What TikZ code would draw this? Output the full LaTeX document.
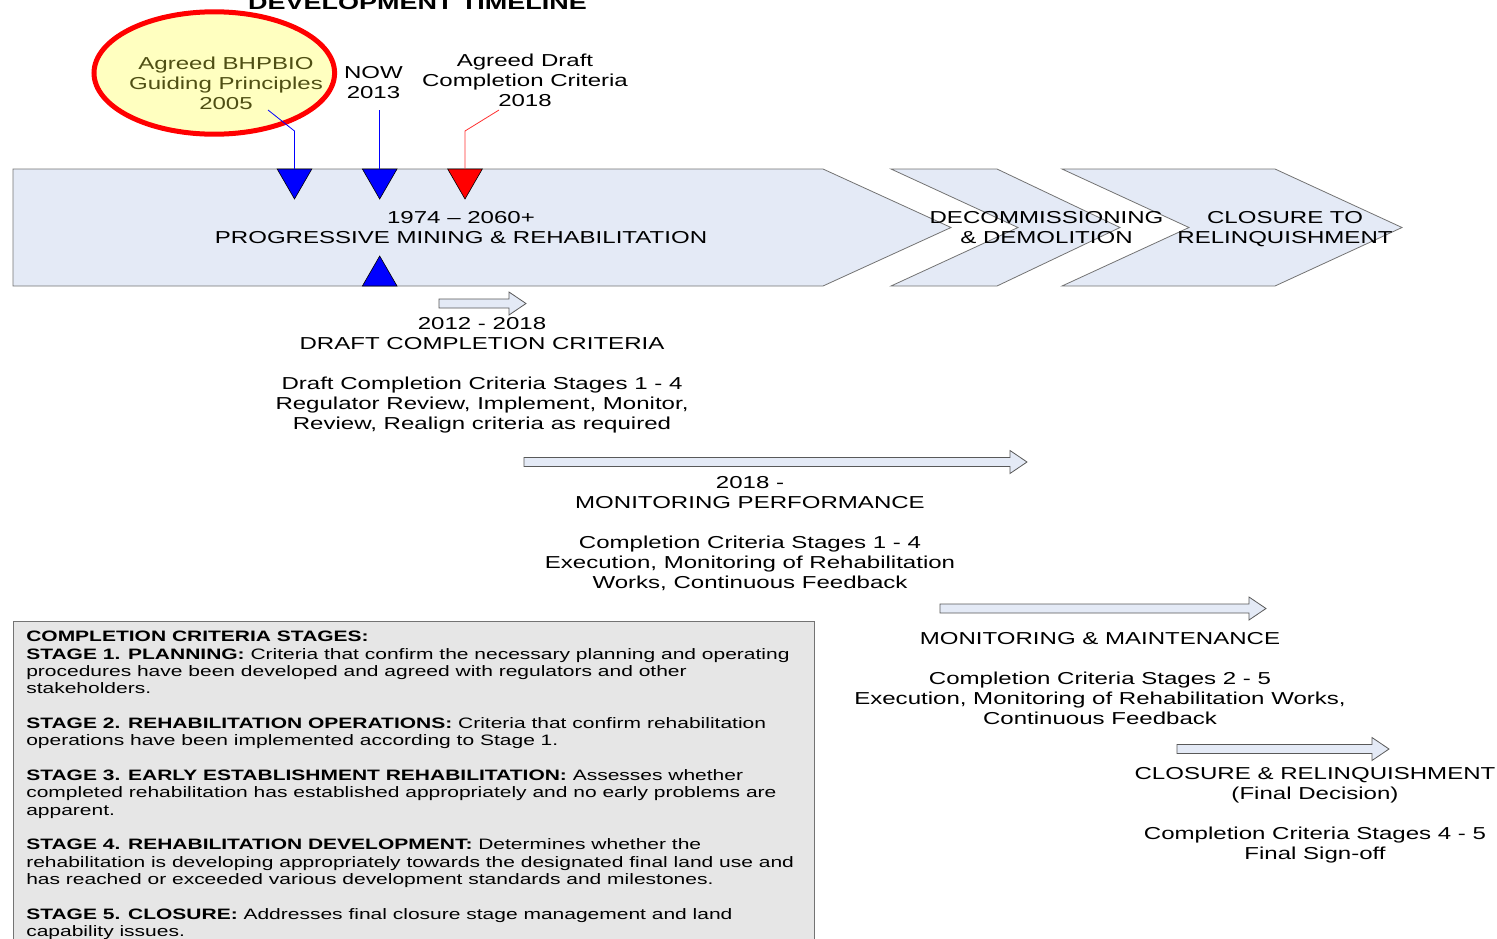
\documentclass[tikz,border=0pt]{standalone}
\usepackage{fontspec}
\setmainfont{Liberation Sans}
\usetikzlibrary{positioning,shapes.geometric}
\definecolor{barfill}{HTML}{E4EAF6}
\definecolor{boxfill}{HTML}{E6E6E6}
\definecolor{notefill}{HTML}{FFFFC0}
\definecolor{notetext}{HTML}{4F4F14}
\definecolor{callred}{HTML}{FF3030}
\tikzset{
txt/.style={font=\fontsize{17.3}{20}\selectfont, align=center, inner sep=0pt, anchor=north, transform shape, xscale=1.39},
stagetxt/.style={font=\fontsize{15.1}{17.35}\selectfont, align=left, inner sep=0pt, anchor=north west, transform shape, xscale=1.39},
phase/.style={fill=barfill, draw=black!55, line width=0.8pt},
flow/.style={fill=barfill, draw=black!65, line width=0.8pt},
markdown/.style={regular polygon, regular polygon sides=3, shape border rotate=180, minimum size=40pt, inner sep=0pt, outer sep=0pt, draw=black, line width=0.6pt, anchor=north},
markup/.style={regular polygon, regular polygon sides=3, minimum size=40pt, inner sep=0pt, outer sep=0pt, draw=black, line width=0.6pt, anchor=south},
note/.style={ellipse, draw=red, line width=5pt, fill=notefill, minimum width=240.6pt, minimum height=122.4pt, inner sep=0pt},
connect/.style={line width=0.8pt}
}
\newcommand{\timearrow}[3]{%
  \draw[flow] (#1,{-(#3)+4.5}) -- ({#2-17},{-(#3)+4.5}) -- ({#2-17},{-(#3)+11.5}) -- (#2,-#3)
    -- ({#2-17},{-(#3)-11.5}) -- ({#2-17},{-(#3)-4.5}) -- (#1,{-(#3)-4.5}) -- cycle;}

\begin{document}
\begin{tikzpicture}[x=1pt, y=1pt]
        \useasboundingbox (0,0) rectangle (1497,-938);
        \node[font=\bfseries\fontsize{19.4}{22}\selectfont, inner sep=0pt, anchor=base, transform shape, xscale=1.39] (title) at (417.5,-9.5) {DEVELOPMENT TIMELINE};

        \draw[phase] (13,-169) -- (823,-169) -- (951,-227.5) -- (823,-286) -- (13,-286) -- cycle;
        \draw[phase] (891,-169) -- (997,-169) -- (1120,-227.5) -- (997,-286) -- (891,-286) -- (1018,-227.5) -- cycle;
        \draw[phase] (1062,-169) -- (1275,-169) -- (1402,-227.5) -- (1275,-286) -- (1062,-286) -- (1189,-227.5) -- cycle;
        \node[txt] (mining) at (461,-211) {1974 -- 2060+\\PROGRESSIVE MINING \& REHABILITATION};
        \node[txt] (decom) at (1046.5,-211) {DECOMMISSIONING\\\& DEMOLITION};
        \node[txt] (closure) at (1285,-211) {CLOSURE TO\\RELINQUISHMENT};

        \node[note] (gpring) at (214.3,-73) {};
        \node[txt, text=notetext] (gptext) at (226,-57) {Agreed BHPBIO\\Guiding Principles\\2005};
        \node[txt] (now) at (373.5,-66) {NOW\\2013};
        \node[txt] (draft) at (525,-54) {Agreed Draft\\Completion Criteria\\2018};

        \node[markdown, fill=blue] (m2005) at (294.5,-169) {};
        \node[markdown, fill=blue] (m2013) at (379.7,-169) {};
        \node[markdown, fill=red] (m2018) at (465,-169) {};
        \node[markup, fill=blue] (mnow) at (379.7,-286) {};
        \coordinate (gptail) at (268,-110);
        \coordinate (nowtail) at (379.7,-110);
        \coordinate (drafttail) at (499,-110);
        \draw[connect, blue] (m2005.north) -- ++(0,38) -- (gptail);
        \draw[connect, blue] (m2013.north) -- (nowtail);
        \draw[connect, callred] (m2018.north) -- ++(0,38) -- (drafttail);

        \timearrow{439}{526}{303.5}
        \timearrow{524}{1027}{462}
        \timearrow{940}{1266}{608.5}
        \timearrow{1177}{1389}{749}
        \node[txt] (draftcc) at (482,-317) {2012 - 2018\\DRAFT COMPLETION CRITERIA\\[20pt]Draft Completion Criteria Stages 1 - 4\\Regulator Review, Implement, Monitor,\\Review, Realign criteria as required};
        \node[txt] (perform) at (750,-476) {2018 -\\MONITORING PERFORMANCE\\[20pt]Completion Criteria Stages 1 - 4\\Execution, Monitoring of Rehabilitation\\Works, Continuous Feedback};
        \node[txt] (maintain) at (1100,-632) {MONITORING \& MAINTENANCE\\[20pt]Completion Criteria Stages 2 - 5\\Execution, Monitoring of Rehabilitation Works,\\Continuous Feedback};
        \node[txt] (relinq) at (1315,-767) {CLOSURE \& RELINQUISHMENT\\(Final Decision)\\[20pt]Completion Criteria Stages 4 - 5\\Final Sign-off};

        \draw[fill=boxfill, draw=black!55, line width=1pt] (13,-621) rectangle (814,-960);
        \node[stagetxt] (stages) at (26,-631) {\textbf{COMPLETION CRITERIA STAGES:}\\
          \textbf{STAGE 1. PLANNING:} Criteria that confirm the necessary planning and operating\\
          procedures have been developed and agreed with regulators and other\\
          stakeholders.\\[17.35pt]
          \textbf{STAGE 2. REHABILITATION OPERATIONS:} Criteria that confirm rehabilitation\\
          operations have been implemented according to Stage 1.\\[17.35pt]
          \textbf{STAGE 3. EARLY ESTABLISHMENT REHABILITATION:} Assesses whether\\
          completed rehabilitation has established appropriately and no early problems are\\
          apparent.\\[17.35pt]
          \textbf{STAGE 4. REHABILITATION DEVELOPMENT:} Determines whether the\\
          rehabilitation is developing appropriately towards the designated final land use and\\
          has reached or exceeded various development standards and milestones.\\[17.35pt]
          \textbf{STAGE 5. CLOSURE:} Addresses final closure stage management and land\\
          capability issues.};
    \end{tikzpicture}
\end{document}
